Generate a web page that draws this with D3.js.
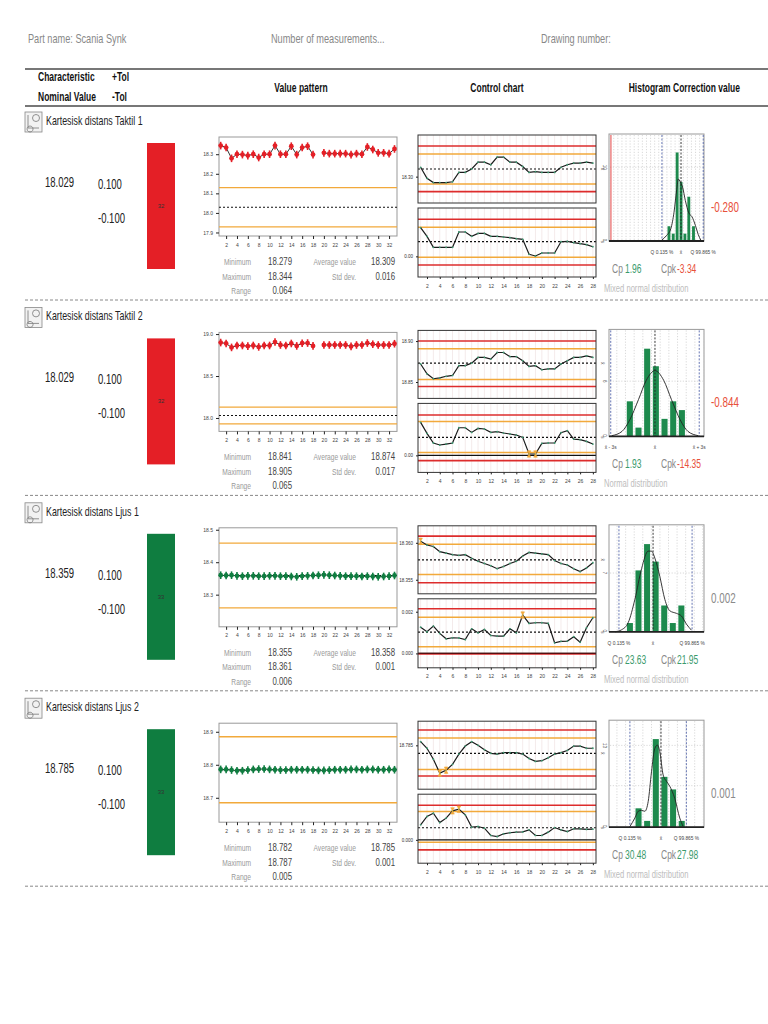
<!DOCTYPE html>
<html>
<head>
<meta charset="utf-8">
<script src="https://cdnjs.cloudflare.com/ajax/libs/d3/7.8.5/d3.min.js"></script>
<style>
  body { margin: 0; background: #fff; }
  svg text { font-family: "Liberation Sans", Arial, sans-serif; }
</style>
</head>
<body>
<div id="chart"></div>
<script>
// ---------- data ----------
var titles = ["Kartesisk distans Taktil 1", "Kartesisk distans Taktil 2", "Kartesisk distans Ljus 1", "Kartesisk distans Ljus 2"];
var nominalText = ["18.029", "18.029", "18.359", "18.785"];
var nominalVal = [18.029, 18.029, 18.359, 18.785];
var plusTol = ["0.100", "0.100", "0.100", "0.100"];
var minusTol = ["-0.100", "-0.100", "-0.100", "-0.100"];
var tolerance = 0.1;
var counts = [32, 32, 33, 33];
var inTolerance = [false, false, true, true];

// value pattern (single measurements, null = missing)
var vp1 = [18.344, 18.334, 18.279, 18.300, 18.298, 18.293, 18.300, 18.283, 18.300, 18.300, 18.344, 18.300, 18.300, 18.341, 18.298, 18.334, 18.341, 18.298, null, 18.307, 18.303, 18.303, 18.303, 18.303, 18.298, 18.303, 18.300, 18.337, 18.324, 18.307, 18.307, 18.303, 18.327];
var vp2 = [18.899, 18.888, 18.841, 18.864, 18.864, 18.856, 18.864, 18.847, 18.864, 18.864, 18.905, 18.870, 18.864, 18.888, 18.859, 18.891, 18.893, 18.859, null, 18.870, 18.870, 18.870, 18.870, 18.870, 18.853, 18.870, 18.870, 18.893, 18.879, 18.870, 18.870, 18.870, 18.885];
var vp3 = [18.360, 18.359, 18.360, 18.358, 18.357, 18.358, 18.358, 18.357, 18.357, 18.358, 18.358, 18.357, 18.357, 18.356, 18.355, 18.357, 18.358, 18.359, 18.360, 18.361, 18.360, 18.359, 18.358, 18.357, 18.357, 18.357, 18.356, 18.357, 18.356, 18.355, 18.356, 18.357, 18.359];
var vp4 = [18.786, 18.786, 18.784, 18.782, 18.782, 18.784, 18.786, 18.787, 18.787, 18.786, 18.785, 18.784, 18.784, 18.785, 18.785, 18.785, 18.785, 18.784, 18.783, 18.783, 18.784, 18.785, 18.785, 18.785, 18.786, 18.786, 18.785, 18.786, 18.786, 18.785, 18.785, 18.786, 18.785];
var vpValues = [vp1, vp2, vp3, vp4];
var vpDomains = [[17.882, 18.388], [17.84, 19.02], [18.201, 18.506], [18.626, 18.926]];
var vpTicks = [[17.9, 18.0, 18.1, 18.2, 18.3], [18.0, 18.5, 19.0], [18.3, 18.4, 18.5], [18.7, 18.8, 18.9]];

var statMin = ["18.279", "18.841", "18.355", "18.782"];
var statMax = ["18.344", "18.905", "18.361", "18.787"];
var statRange = ["0.064", "0.065", "0.006", "0.005"];
var statAvg = ["18.309", "18.874", "18.358", "18.785"];
var statStd = ["0.016", "0.017", "0.001", "0.001"];

// control chart, upper panel: moving means (mm)
var xbar1 = [18.311, 18.298, 18.293, 18.293, 18.293, 18.294, 18.305, 18.305, 18.309, 18.317, 18.317, 18.314, 18.323, 18.323, 18.317, 18.317, 18.312, 18.305, 18.306, 18.305, 18.305, 18.305, 18.311, 18.314, 18.316, 18.316, 18.317, 18.316];
var xbar2 = [18.872, 18.860, 18.854, 18.855, 18.857, 18.858, 18.870, 18.870, 18.873, 18.880, 18.880, 18.878, 18.886, 18.886, 18.881, 18.881, 18.876, 18.869, 18.870, 18.865, 18.866, 18.866, 18.872, 18.876, 18.880, 18.880, 18.882, 18.880];
var xbar3 = [18.3602, 18.3597, 18.3595, 18.3588, 18.3586, 18.3584, 18.3583, 18.3584, 18.3579, 18.3575, 18.3572, 18.3569, 18.3565, 18.3568, 18.3572, 18.3575, 18.3582, 18.3587, 18.3586, 18.3585, 18.3584, 18.3576, 18.3572, 18.3570, 18.3565, 18.3561, 18.3566, 18.3573];
var xbar4 = [18.7855, 18.7846, 18.7831, 18.7812, 18.7816, 18.7824, 18.7838, 18.7849, 18.7855, 18.7850, 18.7844, 18.7839, 18.7838, 18.7840, 18.7840, 18.7840, 18.7838, 18.7832, 18.7828, 18.7829, 18.7833, 18.7838, 18.7840, 18.7843, 18.7849, 18.7849, 18.7846, 18.7846];
var xbarValues = [xbar1, xbar2, xbar3, xbar4];
// [LCL, LWL, CL, UWL, UCL]
var xbarLimits = [[18.2824, 18.2914, 18.309, 18.3266, 18.336], [18.8446, 18.8532, 18.873, 18.8906, 18.900], [18.3546, 18.3557, 18.3577, 18.3598, 18.3609], [18.7808, 18.7817, 18.7839, 18.7860, 18.7871]];
var xbarDomains = [[18.269, 18.349], [18.830, 18.913], [18.3531, 18.3623], [18.7790, 18.7883]];
var xbarTicks = [[18.30], [18.85, 18.90], [18.355, 18.360], [18.785]];
var xbarTickDigits = [2, 2, 3, 3];

// control chart, lower panel: moving std dev (micrometre)
var s1 = [31.0, 21.6, 9.7, 9.7, 9.7, 9.7, 26.3, 26.3, 21.6, 24.8, 24.8, 21.6, 21.6, 20.9, 20.2, 19.1, 18.4, 2.2, 0.4, 3.6, 3.6, 3.6, 15.8, 16.2, 14.8, 13.7, 12.6, 10.4];
var s2 = [31.2, 20.8, 11.7, 9.8, 10.7, 11.7, 26.1, 26.1, 21.7, 25.5, 24.9, 21.7, 22.4, 21.1, 20.2, 19.2, 17.0, 1.3, 1.3, 11.3, 11.7, 11.7, 21.4, 23.3, 15.4, 14.8, 13.2, 10.7];
var s3 = [1.26, 1.04, 1.31, 0.96, 0.70, 0.75, 0.74, 0.66, 1.18, 0.99, 1.15, 0.86, 0.83, 0.83, 1.18, 0.99, 1.84, 1.44, 1.47, 1.47, 1.44, 0.51, 0.58, 0.59, 0.80, 0.54, 1.23, 1.71];
var s4 = [0.72, 1.12, 1.28, 0.83, 1.04, 1.39, 1.47, 1.20, 0.61, 0.64, 0.56, 0.21, 0.16, 0.29, 0.34, 0.37, 0.38, 0.48, 0.21, 0.21, 0.37, 0.59, 0.48, 0.40, 0.53, 0.53, 0.50, 0.51];
var sValues = [s1, s2, s3, s4];
var sLimits = [[-9.4, -1.1, 15.8, 31.3, 40.0], [-5.0, 2.8, 17.0, 32.1, 38.1], [-0.02, 0.32, 1.02, 1.74, 2.14], [-0.48, -0.11, 0.58, 1.36, 1.66]];
var sDomains = [[-22.3, 52.2], [-16.1, 49.1], [-0.69, 2.62], [-1.12, 2.19]];
var sTicks = [[0], [0], [0, 2], [0]];
var sTickDigits = [2, 2, 3, 3];

// histograms
var histCenters = [
  [18.278, 18.289, 18.299, 18.309, 18.319, 18.329, 18.341],
  [18.845, 18.855, 18.865, 18.875, 18.885, 18.895, 18.905],
  [18.355, 18.356, 18.357, 18.358, 18.359, 18.360, 18.361],
  [18.782, 18.783, 18.784, 18.785, 18.786, 18.787]
];
var histCounts = [[2, 1, 12, 8, 1, 6, 2], [4, 1, 10, 8, 2, 4, 3], [1, 7, 10, 8, 3, 1, 3], [3, 1, 14, 8, 6, 1]];
var histBinWidth = [0.0105, 0.01, 0.001, 0.001];
var histDomains = [[18.124, 18.368], [18.821, 18.9305], [18.35256, 18.36364], [18.77858, 18.78958]];
var histYMax = [14.5, 12.2, 12.2, 17];
var histGridY = [[10], [6.3], [6.7], [6.6, 13]];
var histLow = [18.260, 18.823, 18.35372, 18.7810];
var histMean = [18.309, 18.874, 18.3577, 18.7846];
var histHigh = [18.366, 18.925, 18.36225, 18.78754];
var histTolLines = [[18.129], [], [], []];
var histMarkLabels = [["Q 0.135 %", "x̄", "Q 99.865 %"], ["x̄ - 3s", "x̄", "x̄ + 3s"], ["Q 0.135 %", "x̄", "Q 99.865 %"], ["Q 0.135 %", "x̄", "Q 99.865 %"]];
var curve1 = [[18.259, 0.1], [18.271, 0.7], [18.283, 1.7], [18.291, 3.9], [18.298, 7.0], [18.302, 8.4], [18.307, 8.0], [18.313, 7.3], [18.320, 5.5], [18.329, 3.8], [18.337, 3.3], [18.346, 2.1], [18.353, 0.9], [18.360, 0.1]];
var curve2 = [[18.824, 0.08], [18.836, 0.57], [18.845, 1.9], [18.855, 4.2], [18.864, 6.4], [18.874, 7.5], [18.884, 6.4], [18.893, 4.2], [18.903, 1.9], [18.912, 0.57], [18.924, 0.08]];
var curve3 = [[18.35326, 0], [18.35403, 0.23], [18.35481, 1.07], [18.35558, 3.7], [18.35636, 7.2], [18.35713, 9.2], [18.35752, 9.2], [18.35791, 8.4], [18.35849, 6.3], [18.35907, 3.7], [18.35965, 2.4], [18.36043, 2.1], [18.36101, 1.8], [18.36159, 0.88], [18.36217, 0.19]];
var curve4 = [[18.7810, 0.1], [18.78158, 1.47], [18.78196, 2.53], [18.78235, 2.68], [18.78273, 2.53], [18.78312, 4.1], [18.7835, 8.8], [18.78388, 12.5], [18.78419, 13.05], [18.78446, 12.0], [18.78485, 8.3], [18.78523, 7.3], [18.78562, 6.5], [18.78619, 4.6], [18.78677, 1.47], [18.78715, 0.16]];
var histCurves = [curve1, curve2, curve3, curve4];

var cpValues = ["1.96", "1.93", "23.63", "30.48"];
var cpkValues = ["-3.34", "-14.35", "21.95", "27.98"];
var distNames = ["Mixed normal distribution", "Normal distribution", "Mixed normal distribution", "Mixed normal distribution"];
var corrections = ["-0.280", "-0.844", "0.002", "0.001"];

// ---------- drawing ----------
var svgWidth = 768;
var svgHeight = 1024;
var rowTop = 106;
var rowStep = 195.4;

var RED = "#e41f26";
var GREEN = "#0f7d40";
var ORANGE = "#f2a93b";
var LIMRED = "#dd2c2c";
var NEG = "#e8503a";
var POS = "#3a9a6c";

var svg = d3.select("#chart").append("svg")
  .attr("width", svgWidth)
  .attr("height", svgHeight);

// narrow text: Liberation Sans squeezed horizontally, like the report's condensed face
function ntext(g, x, y, str, size, fill, anchor, weight) {
  return g.append("text")
    .attr("transform", "translate(" + x + "," + y + ") scale(0.68,1)")
    .attr("font-size", size)
    .attr("fill", fill)
    .attr("text-anchor", anchor || "start")
    .attr("font-weight", weight || null)
    .text(str);
}

// page header
ntext(svg, 28, 43, "Part name: Scania Synk", 13.5, "#888");
ntext(svg, 271, 43, "Number of measurements...", 13.5, "#888");
ntext(svg, 541, 43, "Drawing number:", 13.5, "#888");

svg.append("line").attr("x1", 25).attr("x2", 768).attr("y1", 69).attr("y2", 69).attr("stroke", "#777").attr("stroke-width", 2);
svg.append("line").attr("x1", 25).attr("x2", 768).attr("y1", 106).attr("y2", 106).attr("stroke", "#777").attr("stroke-width", 2);

ntext(svg, 38, 81, "Characteristic", 12.5, "#111", "start", "bold");
ntext(svg, 38, 101, "Nominal Value", 12.5, "#111", "start", "bold");
ntext(svg, 112, 81, "+Tol", 12.5, "#111", "start", "bold");
ntext(svg, 112, 101, "-Tol", 12.5, "#111", "start", "bold");
ntext(svg, 301, 92, "Value pattern", 12.5, "#111", "middle", "bold");
ntext(svg, 497, 92, "Control chart", 12.5, "#111", "middle", "bold");
ntext(svg, 740, 92, "Histogram  Correction value", 12.5, "#111", "end", "bold");

function drawIcon(g) {
  var ic = g.append("g").attr("transform", "translate(25,6)");
  ic.append("rect").attr("width", 17).attr("height", 20).attr("fill", "#f2f2f2").attr("stroke", "#888").attr("stroke-width", 0.8);
  ic.append("circle").attr("cx", 11).attr("cy", 6).attr("r", 3.5).attr("fill", "none").attr("stroke", "#777").attr("stroke-width", 0.8);
  ic.append("path").attr("d", "M3,3 V16 H14 M5,14 a3,3 0 1,0 0.1,0").attr("fill", "none").attr("stroke", "#777").attr("stroke-width", 0.8);
}

function drawLabels(g, i) {
  drawIcon(g);
  ntext(g, 46, 19, titles[i], 13, "#222");
  ntext(g, 45, 81, nominalText[i], 14, "#222");
  ntext(g, 98, 83, plusTol[i], 14, "#222");
  ntext(g, 98, 117, minusTol[i], 14, "#222");

  // status bar with sample count
  var bx = d3.scaleBand().domain([titles[i]]).range([147, 175]).padding(0);
  g.selectAll(null).data([counts[i]]).enter().append("rect")
    .attr("x", bx(titles[i])).attr("y", 37)
    .attr("width", bx.bandwidth()).attr("height", 126)
    .attr("fill", inTolerance[i] ? GREEN : RED);
  g.append("text").attr("x", 161).attr("y", 102).attr("text-anchor", "middle")
    .attr("font-size", 6).attr("fill", "#333").text(counts[i]);
}

function drawValuePattern(g, i) {
  var x = d3.scaleLinear().domain([0.69, 33.46]).range([219, 397]);
  var y = d3.scaleLinear().domain(vpDomains[i]).range([130, 31]);
  var col = inTolerance[i] ? GREEN : RED;

  g.append("rect").attr("x", 219).attr("y", 31).attr("width", 178).attr("height", 99)
    .attr("fill", "#fff").attr("stroke", "#999").attr("stroke-width", 1);

  [nominalVal[i] + tolerance, nominalVal[i] - tolerance].forEach(function(v) {
    g.append("line").attr("x1", 219).attr("x2", 397).attr("y1", y(v)).attr("y2", y(v))
      .attr("stroke", ORANGE).attr("stroke-width", 1.3);
  });
  g.append("line").attr("x1", 219).attr("x2", 397).attr("y1", y(nominalVal[i])).attr("y2", y(nominalVal[i]))
    .attr("stroke", "#111").attr("stroke-width", 1.1).attr("stroke-dasharray", "2,2");

  var ay = g.append("g").attr("transform", "translate(219,0)")
    .call(d3.axisLeft(y).tickValues(vpTicks[i]).tickSize(3).tickFormat(d3.format(".1f")));
  ay.select(".domain").remove();
  ay.selectAll("text").attr("font-size", 5).attr("fill", "#444");
  ay.selectAll("line").attr("stroke", "#222");

  var axb = g.append("g").attr("transform", "translate(0,130)")
    .call(d3.axisBottom(x).tickValues(d3.range(2, 33, 2)).tickSize(3).tickFormat(d3.format("d")));
  axb.select(".domain").remove();
  axb.selectAll("text").attr("font-size", 5).attr("fill", "#444").attr("dy", "0.9em");
  axb.selectAll("line").attr("stroke", "#222");

  var pts = vpValues[i].map(function(v, k) { return { v: v, k: k + 1 }; });
  var line = d3.line().defined(function(d) { return d.v != null; })
    .x(function(d) { return x(d.k); }).y(function(d) { return y(d.v); });
  g.append("path").datum(pts).attr("d", line).attr("fill", "none").attr("stroke", "#333").attr("stroke-width", 1);

  var mk = g.append("g").selectAll("g").data(pts.filter(function(d) { return d.v != null; })).enter().append("g")
    .attr("transform", function(d) { return "translate(" + x(d.k) + "," + y(d.v) + ")"; });
  mk.append("line").attr("y1", -3.8).attr("y2", 3.8).attr("stroke", col).attr("stroke-width", 1.6);
  mk.append("circle").attr("r", 2.4).attr("fill", col);

  // statistics block
  var labL = ["Minimum", "Maximum", "Range"];
  var valL = [statMin[i], statMax[i], statRange[i]];
  var labR = ["Average value", "Std dev."];
  var valR = [statAvg[i], statStd[i]];
  labL.forEach(function(t, k) {
    ntext(g, 251, 159 + k * 14.5, t, 9.8, "#9a9a9a", "end");
    ntext(g, 292, 159 + k * 14.5, valL[k], 11.5, "#444", "end");
  });
  labR.forEach(function(t, k) {
    ntext(g, 356, 159 + k * 14.5, t, 9.8, "#9a9a9a", "end");
    ntext(g, 395, 159 + k * 14.5, valR[k], 11.5, "#444", "end");
  });
}

var bowtie = "M-1.8,-3.2 L1.8,-3.2 L-1.8,3.2 L1.8,3.2 Z";

function controlPanel(g, x, values, lim, dom, top, bottom, ticks, digits, sideLabel, isS, factor, clipId) {
  var y = d3.scaleLinear().domain(dom).range([bottom, top]);
  g.append("clipPath").attr("id", clipId).append("rect")
    .attr("x", 418).attr("y", top).attr("width", 178).attr("height", bottom - top);
  g.append("rect").attr("x", 418).attr("y", top).attr("width", 178).attr("height", bottom - top).attr("fill", "#fff");

  var pg = g.append("g").attr("clip-path", "url(#" + clipId + ")");
  pg.selectAll(null).data(d3.range(1, 29)).enter().append("line")
    .attr("x1", function(d) { return x(d); }).attr("x2", function(d) { return x(d); })
    .attr("y1", top).attr("y2", bottom).attr("stroke", "#f1e6e6").attr("stroke-width", 0.8);

  var hl = function(v, color, w, dash) {
    pg.append("line").attr("x1", 418).attr("x2", 596).attr("y1", y(v)).attr("y2", y(v))
      .attr("stroke", color).attr("stroke-width", w).attr("stroke-dasharray", dash || null);
  };
  hl(lim[0], LIMRED, 1.6);
  hl(lim[4], LIMRED, 1.6);
  hl(lim[1], ORANGE, 1.5);
  hl(lim[3], ORANGE, 1.5);
  hl(lim[2], "#111", 1.2, "2,2");
  if (isS && (Math.abs(lim[1]) > (dom[1] - dom[0]) * 0.03)) hl(0, "#111", 1.1);
  if (isS && Math.abs(lim[0]) < (dom[1] - dom[0]) * 0.02) hl(0, "#5a0d0d", 1.2);

  var line = d3.line().x(function(d, k) { return x(k + 1); }).y(function(d) { return y(d); });
  pg.append("path").datum(values).attr("d", line).attr("fill", "none").attr("stroke", "#1b1b1b").attr("stroke-width", 1.2);
  pg.selectAll(null).data(values).enter().append("circle")
    .attr("cx", function(d, k) { return x(k + 1); }).attr("cy", function(d) { return y(d); })
    .attr("r", 0.9).attr("fill", "#3c9a72");
  var out = values.map(function(v, k) { return { v: v, k: k + 1 }; })
    .filter(function(d) { return d.v > lim[3] || d.v < lim[1]; });
  pg.selectAll(null).data(out).enter().append("path").attr("d", bowtie)
    .attr("transform", function(d) { return "translate(" + x(d.k) + "," + y(d.v) + ")"; })
    .attr("fill", ORANGE).attr("stroke", ORANGE).attr("stroke-width", 0.6);

  g.append("rect").attr("x", 418).attr("y", top).attr("width", 178).attr("height", bottom - top)
    .attr("fill", "none").attr("stroke", "#333").attr("stroke-width", 1);

  var ay = g.append("g").attr("transform", "translate(418,0)")
    .call(d3.axisLeft(y).tickValues(ticks).tickSize(2)
      .tickFormat(function(d) { return (d / factor).toFixed(digits); }));
  ay.select(".domain").remove();
  ay.selectAll("text").attr("font-size", 4.5).attr("fill", "#333");
  ay.selectAll("line").attr("stroke", "#222");

  g.append("text").attr("transform", "translate(601," + y(lim[2]) + ") rotate(90)")
    .attr("text-anchor", "middle").attr("font-size", 5).attr("fill", "#555").text(sideLabel);
}

function drawControl(g, i) {
  var x = d3.scaleLinear().domain([0.59, 28.49]).range([418, 596]);
  controlPanel(g, x, xbarValues[i], xbarLimits[i], xbarDomains[i], 29, 97, xbarTicks[i], xbarTickDigits[i], "x̄", false, 1, "cu" + i);
  controlPanel(g, x, sValues[i], sLimits[i], sDomains[i], 102, 171, sTicks[i], sTickDigits[i], "s", true, 1000, "cl" + i);

  var axb = g.append("g").attr("transform", "translate(0,171)")
    .call(d3.axisBottom(x).tickValues(d3.range(2, 29, 2)).tickSize(2).tickFormat(d3.format("d")));
  axb.select(".domain").remove();
  axb.selectAll("text").attr("font-size", 5).attr("fill", "#444").attr("dy", "1.1em");
  axb.selectAll("line").attr("stroke", "#222");
}

function drawHistogram(g, i) {
  var x = d3.scaleLinear().domain(histDomains[i]).range([609, 704]);
  var y = d3.scaleLinear().domain([0, histYMax[i]]).range([135, 28]);

  g.append("rect").attr("x", 609).attr("y", 28).attr("width", 95).attr("height", 107)
    .attr("fill", "#fff").attr("stroke", "#999").attr("stroke-width", 1);

  // dotted grid at bin edges
  var bw = histBinWidth[i];
  var start = histCenters[i][0] - bw / 2;
  var k0 = Math.ceil((histDomains[i][0] - start) / bw);
  var k1 = Math.floor((histDomains[i][1] - start) / bw);
  g.selectAll(null).data(d3.range(k0, k1 + 1)).enter().append("line")
    .attr("x1", function(k) { return x(start + k * bw); }).attr("x2", function(k) { return x(start + k * bw); })
    .attr("y1", 29).attr("y2", 134).attr("stroke", "#c8c8c8").attr("stroke-width", 0.7).attr("stroke-dasharray", "1.2,1.6");
  g.selectAll(null).data(histGridY[i]).enter().append("line")
    .attr("x1", 610).attr("x2", 703).attr("y1", function(d) { return y(d); }).attr("y2", function(d) { return y(d); })
    .attr("stroke", "#c8c8c8").attr("stroke-width", 0.7).attr("stroke-dasharray", "1.2,1.6");

  histTolLines[i].forEach(function(v) {
    g.append("line").attr("x1", x(v)).attr("x2", x(v)).attr("y1", 29).attr("y2", 135)
      .attr("stroke", "#e03030").attr("stroke-width", 0.9);
  });
  [histLow[i], histHigh[i]].forEach(function(v) {
    g.append("line").attr("x1", x(v)).attr("x2", x(v)).attr("y1", 29).attr("y2", 135)
      .attr("stroke", "#5566aa").attr("stroke-width", 0.9).attr("stroke-dasharray", "2,1.5");
  });

  var bars = histCenters[i].map(function(c, k) { return { c: c, n: histCounts[i][k] }; });
  g.selectAll(null).data(bars).enter().append("rect")
    .attr("x", function(d) { return x(d.c - bw * 0.35); })
    .attr("width", function(d) { return x(d.c + bw * 0.35) - x(d.c - bw * 0.35); })
    .attr("y", function(d) { return y(d.n); })
    .attr("height", function(d) { return y(0) - y(d.n); })
    .attr("fill", "#1d8a4d");

  g.append("line").attr("x1", x(histMean[i])).attr("x2", x(histMean[i])).attr("y1", 29).attr("y2", 135)
    .attr("stroke", "#222").attr("stroke-width", 0.9).attr("stroke-dasharray", "2,1.5");

  var cl = d3.line().curve(d3.curveMonotoneX)
    .x(function(d) { return x(d[0]); }).y(function(d) { return y(d[1]); });
  g.append("path").datum(histCurves[i]).attr("d", cl).attr("fill", "none").attr("stroke", "#222").attr("stroke-width", 0.9);

  g.append("line").attr("x1", 609).attr("x2", 704).attr("y1", 135).attr("y2", 135).attr("stroke", "#222").attr("stroke-width", 1.8);

  // tiny rotated count labels
  var gTop = histGridY[i][histGridY[i].length - 1];
  g.append("text").attr("transform", "translate(603," + y(gTop) + ") rotate(90)")
    .attr("text-anchor", "middle").attr("font-size", 4.5).attr("fill", "#444").text(Math.round(gTop));
  g.append("text").attr("transform", "translate(603,134) rotate(90)")
    .attr("text-anchor", "middle").attr("font-size", 4.5).attr("fill", "#444").text("0");

  [histLow[i], histMean[i], histHigh[i]].forEach(function(v, k) {
    g.append("text").attr("x", x(v)).attr("y", 148).attr("text-anchor", "middle")
      .attr("font-size", 4.8).attr("fill", "#444").text(histMarkLabels[i][k]);
  });

  var cpCol = function(s) { return s.charAt(0) === "-" ? NEG : POS; };
  ntext(g, 612, 167, "Cp", 12.5, "#888");
  ntext(g, 625, 167, cpValues[i], 12.5, cpCol(cpValues[i]));
  ntext(g, 661, 167, "Cpk", 12.5, "#888");
  ntext(g, 677, 167, cpkValues[i], 12.5, cpCol(cpkValues[i]));
  ntext(g, 604, 186, distNames[i], 11.2, "#bdbdbd");

  ntext(g, 711, 106, corrections[i], 14.5, corrections[i].charAt(0) === "-" ? NEG : "#8a8a8a");
}

titles.forEach(function(t, i) {
  var g = svg.append("g").attr("transform", "translate(0," + (rowTop + i * rowStep) + ")");
  drawLabels(g, i);
  drawValuePattern(g, i);
  drawControl(g, i);
  drawHistogram(g, i);
  g.append("line").attr("x1", 25).attr("x2", 768).attr("y1", 194).attr("y2", 194)
    .attr("stroke", "#888").attr("stroke-width", 1).attr("stroke-dasharray", "3,2");
});
</script>
</body>
</html>
